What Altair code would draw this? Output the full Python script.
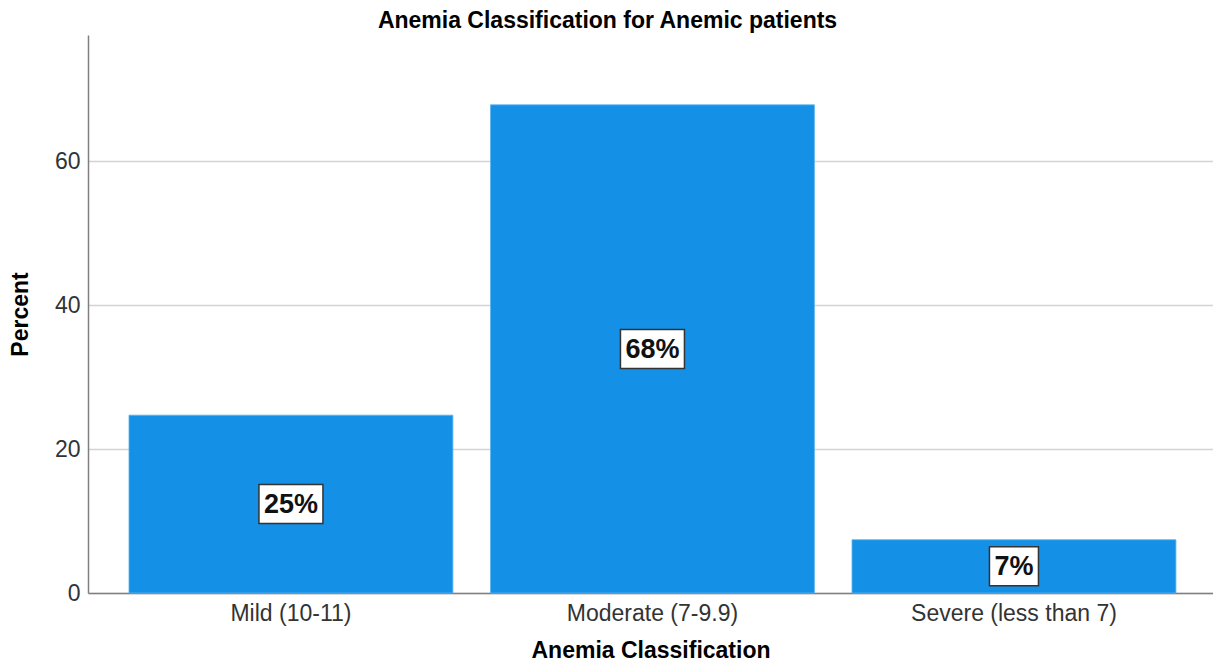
import altair as alt
import pandas as pd

categories = ["Mild (10-11)", "Moderate (7-9.9)", "Severe (less than 7)"]
percents = [24.7, 67.8, 7.4]
labels = ["25%", "68%", "7%"]
y_ticks = [0, 20, 40, 60]

df = pd.DataFrame({"cat": categories, "pct": percents, "label": labels})

FONT = "Liberation Sans"

x_enc = alt.X("cat:N", sort=categories, title="Anemia Classification",
              scale=alt.Scale(paddingInner=0.104, paddingOuter=0.108, align=0.525),
              axis=alt.Axis(labelAngle=0, grid=False, ticks=False, labelPadding=9,
                            labelLimit=0, titlePadding=14))
y_scale = alt.Scale(domain=[0, 77.5], nice=False)

base = alt.Chart(df)

bars = base.mark_bar(color="#1491e6", stroke="#5cb3ef", strokeWidth=0.8).encode(
    x=x_enc,
    y=alt.Y("pct:Q", scale=y_scale, title="Percent",
            axis=alt.Axis(values=y_ticks, ticks=False, grid=True, labelPadding=8,
                          titlePadding=22)),
)

boxes_wide = base.transform_filter("length(datum.label) > 2").transform_calculate(
    mid="datum.pct / 2").mark_rect(
    width=64, height=39, fill="white", stroke="#333333", strokeWidth=1.5).encode(
    x=alt.X("cat:N", sort=categories), y=alt.Y("mid:Q", scale=y_scale))

boxes_narrow = base.transform_filter("length(datum.label) <= 2").transform_calculate(
    mid="datum.pct / 2").mark_rect(
    width=49, height=39, fill="white", stroke="#333333", strokeWidth=1.5).encode(
    x=alt.X("cat:N", sort=categories), y=alt.Y("mid:Q", scale=y_scale))

texts = base.transform_calculate(mid="datum.pct / 2").mark_text(
    fontSize=27, fontWeight="bold", font=FONT, color="#111111", baseline="middle", dy=1).encode(
    x=alt.X("cat:N", sort=categories), y=alt.Y("mid:Q", scale=y_scale), text="label:N")

chart = alt.layer(bars, boxes_wide, boxes_narrow, texts).properties(
    width=1125, height=558,
    title=alt.TitleParams("Anemia Classification for Anemic patients", fontSize=23,
                          font=FONT, fontWeight="bold", color="#000000",
                          anchor="middle", dx=-43, offset=2),
    autosize=alt.AutoSizeParams(type="none"),
    padding={"left": 80, "top": 27, "right": 0, "bottom": 70},
).configure_view(stroke=None).configure_axis(
    domainColor="#808080", domainWidth=1.5, gridColor="#d4d4d4", gridWidth=1.5,
    labelFont=FONT, labelFontSize=23, labelColor="#333333",
    titleFont=FONT, titleFontSize=23, titleFontWeight="bold", titleColor="#000000",
)

chart.save("out.html", embed_options={"renderer": "svg", "actions": False})
